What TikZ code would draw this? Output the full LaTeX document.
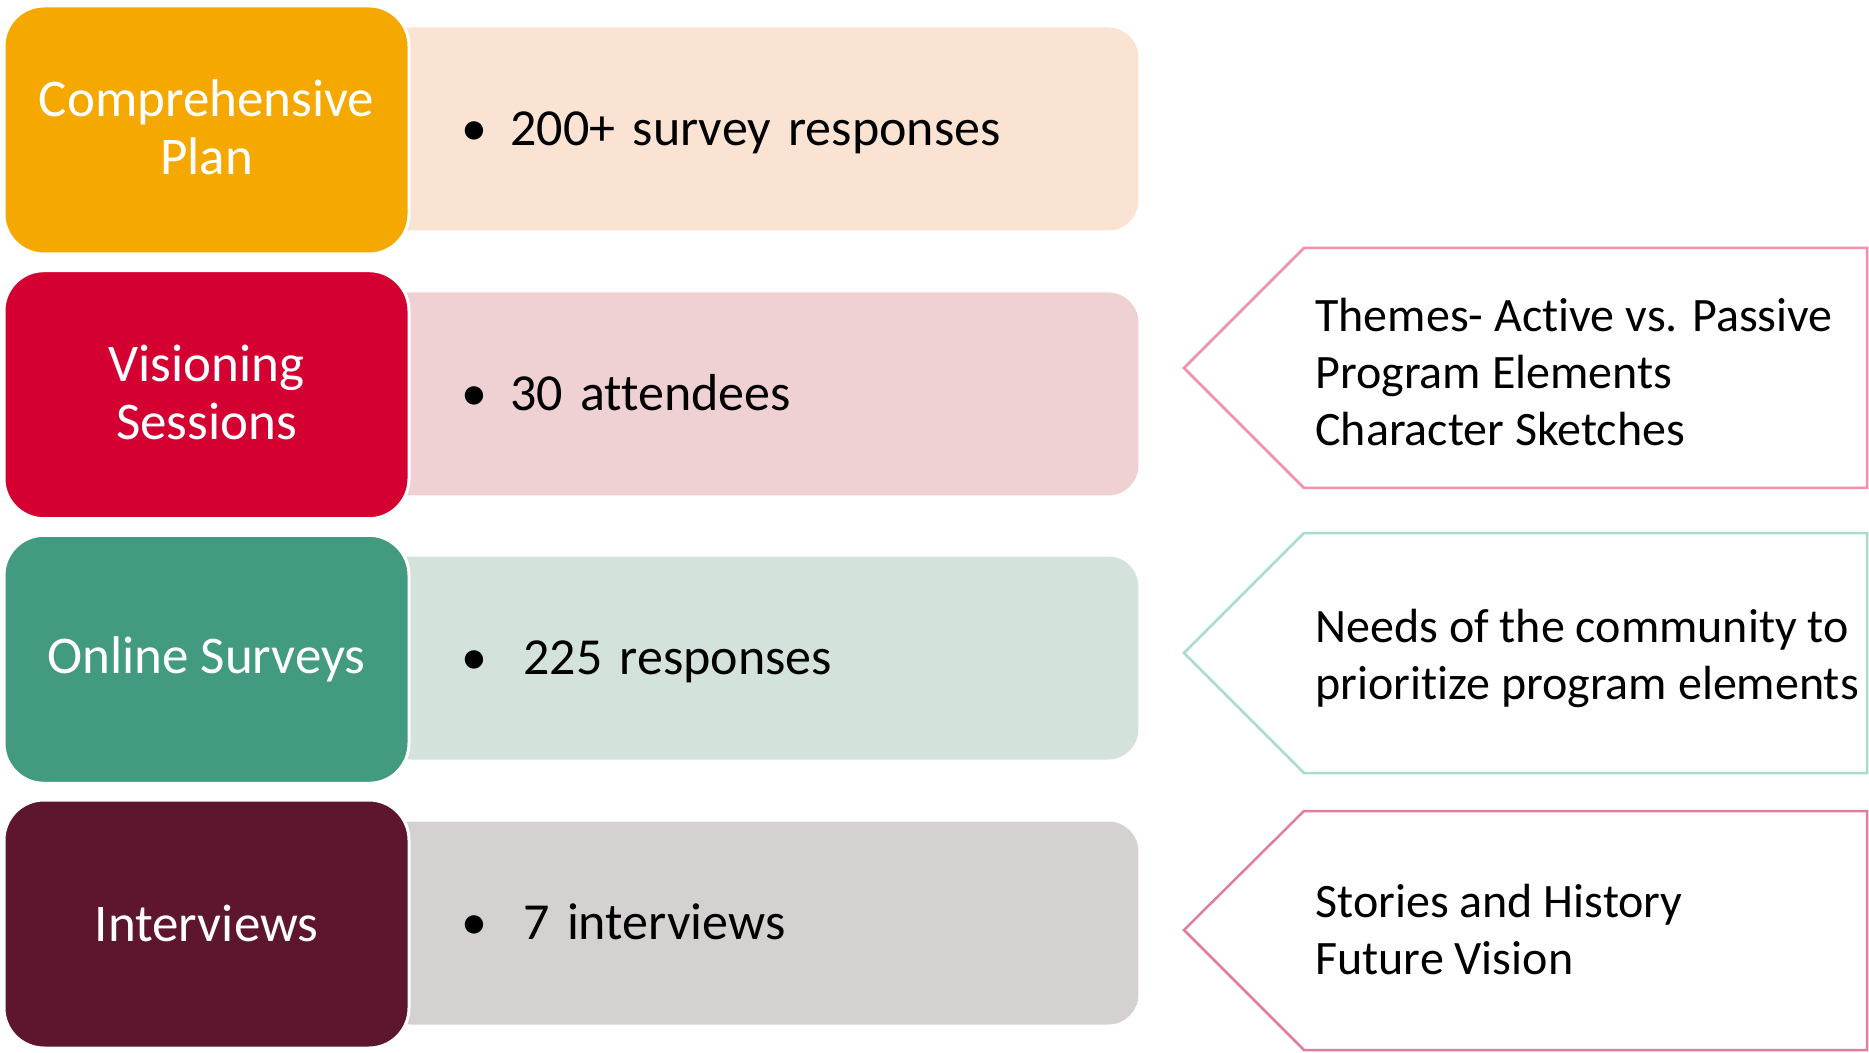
\documentclass[tikz,border=0pt]{standalone}
\usepackage{fontspec}
\setmainfont{Carlito}[Ligatures=NoCommon]
\usetikzlibrary{positioning}

\definecolor{planorange}{HTML}{F5A800}
\definecolor{planlight}{HTML}{FBE3D3}
\definecolor{visioncrimson}{HTML}{D50032}
\definecolor{visionlight}{HTML}{EFD0D3}
\definecolor{onlineteal}{HTML}{429B80}
\definecolor{onlinelight}{HTML}{D3E3DC}
\definecolor{interviewmaroon}{HTML}{5D162D}
\definecolor{interviewlight}{HTML}{D5D1D0}
\definecolor{tagpink}{HTML}{F490AA}
\definecolor{tagteal}{HTML}{A9DCCB}
\definecolor{tagrose}{HTML}{E07E9C}

\tikzset{
  headbox/.style={rounded corners=20pt, draw=white, line width=1.5pt,
    minimum width=202.5pt, minimum height=124pt, inner sep=0pt,
    text=white, align=center, font=\fontsize{26.5}{29}\selectfont},
  factbox/.style={rounded corners=15pt, anchor=west, minimum height=101.5pt,
    inner xsep=40.6pt, text width=297.8pt, align=left,
    text height=19pt, text depth=2.4pt,
    font=\fontsize{26}{30}\selectfont},
  tagline/.style={line width=1.25pt, line join=miter},
  tagtext/.style={anchor=west, align=left, inner sep=0pt,
    font=\fontsize{24}{28.5}\selectfont}
}

\begin{document}
\begin{tikzpicture}[x=0.5pt, y=-0.5pt]
  \useasboundingbox (0,0) rectangle (1869,1053);

  % Light bars with the numbers
  \node[factbox, fill=planlight] (plancount) at (380,129)
    {\makebox[24.4pt][l]{\textbullet}200+ survey responses};
  \node[factbox, fill=visionlight] (visioncount) at (380,394)
    {\makebox[24.4pt][l]{\textbullet}30 attendees};
  \node[factbox, fill=onlinelight] (onlinecount) at (380,658)
    {\makebox[30.9pt][l]{\textbullet}225 responses};
  \node[factbox, fill=interviewlight] (interviewcount) at (380,923)
    {\makebox[30.9pt][l]{\textbullet}7 interviews};

  % Coloured heads on the left
  \node[headbox, fill=planorange] (planhead) at (206.5,130)
    {\raisebox{3pt}{Comprehensive}\\\raisebox{3pt}{Plan}};
  \node[headbox, fill=visioncrimson] (visionhead) at (206.5,394.7)
    {\raisebox{2pt}{Visioning}\\\raisebox{2pt}{Sessions}};
  \node[headbox, fill=onlineteal] (onlinehead) at (206.5,659.3)
    {Online Surveys};
  \node[headbox, fill=interviewmaroon] (interviewhead) at (206.5,924)
    {\raisebox{1pt}{Interviews}};

  % Outlined tags on the right
  \draw[tagline, draw=tagpink]
    (1184,368) -- (1304,248) -- (1867,248) -- (1867,488) -- (1304,488) -- cycle;
  \node[tagtext] (visiontag) at (1315,372)
    {Themes- Active vs. Passive\\Program Elements\\Character Sketches};

  \draw[tagline, draw=tagteal]
    (1184,653) -- (1304,533) -- (1867,533) -- (1867,773) -- (1304,773) -- cycle;
  \node[tagtext] (onlinetag) at (1315,658)
    {Needs of the community to\\prioritize program elements};

  \draw[tagline, draw=tagrose]
    (1184,930) -- (1304,811) -- (1867,811) -- (1867,1050) -- (1304,1050) -- cycle;
  \node[tagtext] (interviewtag) at (1315,930)
    {Stories and History\\Future Vision};
\end{tikzpicture}
\end{document}
